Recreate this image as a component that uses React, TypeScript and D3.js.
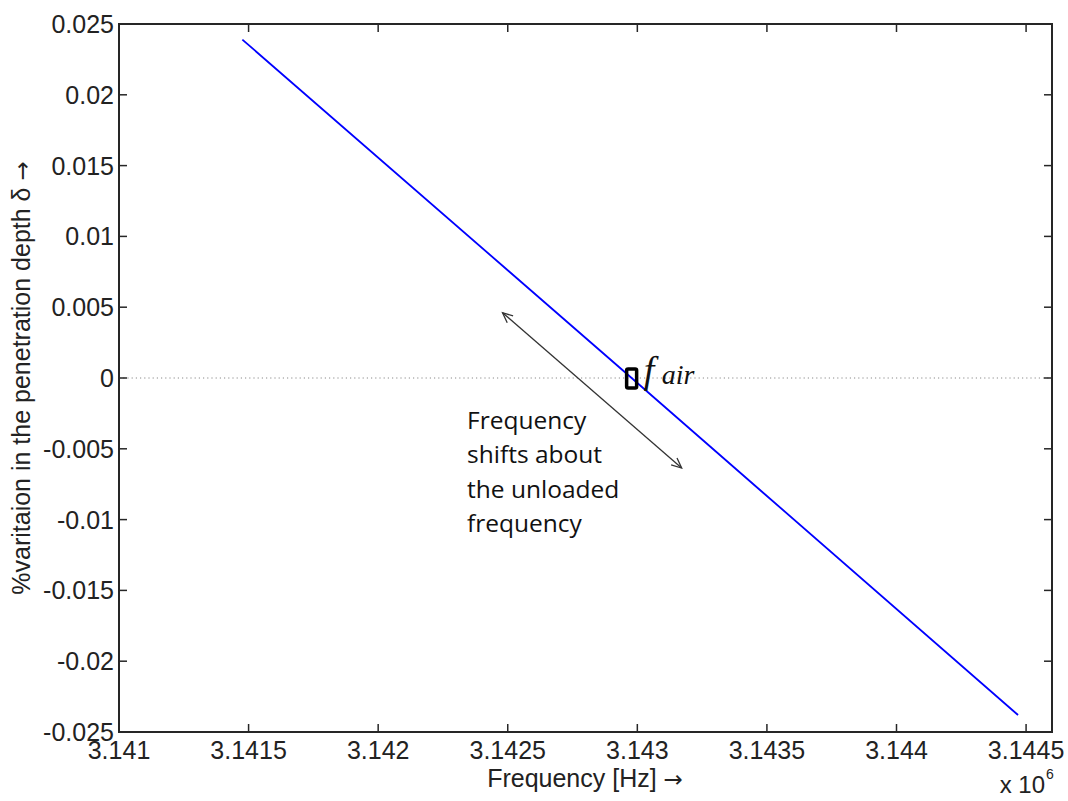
import React from "react";
import * as d3 from "d3";

const xTicks = [3141000, 3141500, 3142000, 3142500, 3143000, 3143500, 3144000, 3144500];
const xTickLabels = ["3.141", "3.1415", "3.142", "3.1425", "3.143", "3.1435", "3.144", "3.1445"];
const yTicks = [0.025, 0.02, 0.015, 0.01, 0.005, 0, -0.005, -0.01, -0.015, -0.02, -0.025];
const yTickLabels = ["0.025", "0.02", "0.015", "0.01", "0.005", "0", "-0.005", "-0.01", "-0.015", "-0.02", "-0.025"];

// series: frequency (Hz) vs % variation in penetration depth
const freq = [3141476, 3142978, 3144469];
const variation = [0.0239, 0, -0.0238];

// annotation anchor (f_air) and arrow endpoints in data coordinates
const fAir = [3142978, 0];
const arrowStart = [3142480, 0.00461];
const arrowEnd = [3143171, -0.00636];
const noteAt = [3142343, -0.0036];
const noteLines = ["Frequency", "shifts about", "the unloaded", "frequency"];

const W = 1068, H = 801;
const M = { left: 119, right: 1052, top: 24, bottom: 732 };

export default function App() {
  const x = d3.scaleLinear().domain([3141000, 3144600]).range([M.left, M.right]);
  const y = d3.scaleLinear().domain([-0.025, 0.025]).range([M.bottom, M.top]);
  const pts = freq.map((f, i) => [f, variation[i]] as [number, number]);
  const line = d3.line<[number, number]>().x(d => x(d[0])).y(d => y(d[1]));
  const axisColor = "#262626";
  const font = "'Liberation Sans', Arial, sans-serif";
  const arrowFont = "'DejaVu Sans', sans-serif";
  const tick = 8;

  const ax1 = x(arrowStart[0]), ay1 = y(arrowStart[1]);
  const ax2 = x(arrowEnd[0]), ay2 = y(arrowEnd[1]);
  const ang = Math.atan2(ay2 - ay1, ax2 - ax1);
  const hl = 11, ha = 0.42;
  const head = (px: number, py: number, a: number) =>
    `M${px + hl * Math.cos(a + ha)},${py + hl * Math.sin(a + ha)} L${px},${py} L${px + hl * Math.cos(a - ha)},${py + hl * Math.sin(a - ha)}`;

  const fx = x(fAir[0]), fy = y(fAir[1]);
  const nx = x(noteAt[0]), ny = y(noteAt[1]);

  return (
    <svg width={W} height={H} style={{ position: "absolute", left: 0, top: 0, background: "#fff" }}>
      <rect x={0} y={0} width={W} height={H} fill="#fff" />
      {/* zero line */}
      <line x1={M.left} x2={M.right} y1={y(0)} y2={y(0)} stroke="#8a8a8a" strokeWidth={1} strokeDasharray="1.2,3" />
      {/* ticks */}
      {xTicks.map((t, i) => (
        <g key={"xt" + i}>
          <line x1={x(t)} x2={x(t)} y1={M.bottom} y2={M.bottom - tick} stroke={axisColor} strokeWidth={1.5} />
          <line x1={x(t)} x2={x(t)} y1={M.top} y2={M.top + tick} stroke={axisColor} strokeWidth={1.5} />
          <text x={x(t)} y={M.bottom + 27} textAnchor="middle" fontFamily={font} fontSize={25} fill="#222">{xTickLabels[i]}</text>
        </g>
      ))}
      {yTicks.map((t, i) => (
        <g key={"yt" + i}>
          <line x1={M.left} x2={M.left + tick} y1={y(t)} y2={y(t)} stroke={axisColor} strokeWidth={1.5} />
          <line x1={M.right} x2={M.right - tick} y1={y(t)} y2={y(t)} stroke={axisColor} strokeWidth={1.5} />
          <text x={114} y={y(t) + 9} textAnchor="end" fontFamily={font} fontSize={25} fill="#222">{yTickLabels[i]}</text>
        </g>
      ))}
      {/* frame */}
      <rect x={M.left} y={M.top} width={M.right - M.left} height={M.bottom - M.top} fill="none" stroke={axisColor} strokeWidth={2} />
      {/* data line */}
      <path d={line(pts) || ""} fill="none" stroke="#0000ff" strokeWidth={1.8} />
      {/* double arrow */}
      <line x1={ax1} y1={ay1} x2={ax2} y2={ay2} stroke="#333" strokeWidth={1.3} />
      <path d={head(ax1, ay1, ang)} fill="none" stroke="#333" strokeWidth={1.3} />
      <path d={head(ax2, ay2, ang + Math.PI)} fill="none" stroke="#333" strokeWidth={1.3} />
      {/* f_air marker */}
      <rect x={fx - 5} y={fy - 9} width={10} height={19} rx={1.5} fill="none" stroke="#000" strokeWidth={3.5} />
      <text x={fx + 12} y={fy + 5} fontFamily="'Liberation Serif', 'DejaVu Serif', serif" fontStyle="italic" fontSize={38} fill="#111">f</text>
      <text x={fx + 30} y={fy + 6} fontFamily="'Liberation Serif', 'DejaVu Serif', serif" fontStyle="italic" fontSize={28} fill="#111">air</text>
      {/* note */}
      {noteLines.map((s, i) => (
        <text key={"n" + i} x={nx} y={ny + i * 34.5} fontFamily="'Open Sans', 'Noto Sans', sans-serif" fontSize={24.5} fill="#111">{s}</text>
      ))}
      {/* axis labels */}
      <text x={585} y={787} textAnchor="middle" fontFamily={font} fontSize={25} fill="#222">Frequency [Hz] <tspan fontFamily={arrowFont} fontSize={23}>→</tspan></text>
      <text transform={`translate(30,${(M.top + M.bottom) / 2}) rotate(-90)`} textAnchor="middle" fontFamily={font} fontSize={25} fill="#222">%varitaion in the penetration depth δ <tspan fontFamily={arrowFont} fontSize={23}>→</tspan></text>
      <text x={1045} y={793} textAnchor="end" fontFamily={font} fontSize={24} fill="#222">x 10</text>
      <text x={1046} y={779} fontFamily={font} fontSize={14} fill="#222">6</text>
    </svg>
  );
}
